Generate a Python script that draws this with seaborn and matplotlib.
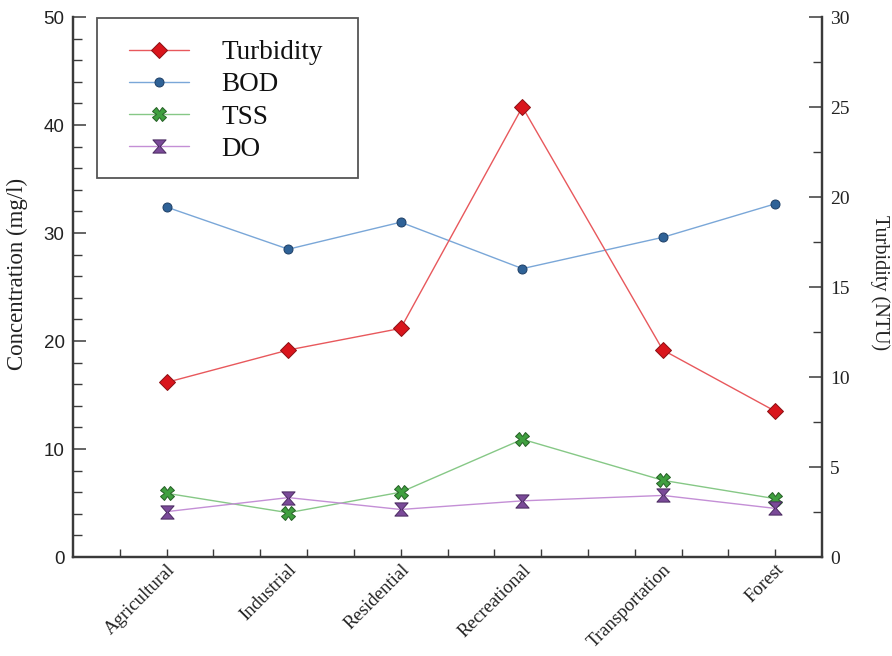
import numpy as np
import pandas as pd
import matplotlib
matplotlib.use("Agg")
import matplotlib.pyplot as plt
from matplotlib.path import Path
from matplotlib.patches import Rectangle
from matplotlib.lines import Line2D
from matplotlib.ticker import MultipleLocator, FixedLocator
import seaborn as sns

# Water-quality parameters by land-use type
land_use = ["Agricultural", "Industrial", "Residential", "Recreational",
            "Transportation", "Forest"]
turbidity = [9.7, 11.5, 12.7, 25.0, 11.5, 8.1]   # NTU (right axis)
bod = [32.4, 28.5, 31.0, 26.7, 29.6, 32.7]       # mg/l
tss = [5.9, 4.1, 6.0, 10.9, 7.1, 5.4]            # mg/l
do = [4.2, 5.5, 4.4, 5.2, 5.7, 4.5]              # mg/l

# horizontal placement of each land-use category along the x scale
site_x = [2.0, 4.6, 7.0, 9.6, 12.6, 15.0]

df = pd.DataFrame({"x": site_x, "Turbidity": turbidity, "BOD": bod,
                   "TSS": tss, "DO": do, "site": land_use})

sns.set_theme(style="white")
serif = ["Liberation Serif", "DejaVu Serif"]
sans = ["Liberation Sans", "DejaVu Sans"]
plt.rcParams["font.family"] = serif

# hourglass marker for DO
hourglass = Path(
    [(-1, 1), (1, 1), (0.12, 0), (1, -1), (-1, -1), (-0.12, 0), (-1, 1)],
    [Path.MOVETO, Path.LINETO, Path.LINETO, Path.LINETO, Path.LINETO,
     Path.LINETO, Path.CLOSEPOLY])

styles = {
    "Turbidity": dict(color="#e8585c", marker="D", markersize=8,
                      markerfacecolor="#d9151c", markeredgecolor="#8a1014",
                      markeredgewidth=0.7, linewidth=1.0),
    "BOD": dict(color="#7aa7d8", marker="o", markersize=6.5,
                markerfacecolor="#2f6297", markeredgecolor="#1e3f66",
                markeredgewidth=0.7, linewidth=1.0),
    "TSS": dict(color="#86c886", marker="X", markersize=10,
                markerfacecolor="#3f9f3f", markeredgecolor="#255f25",
                markeredgewidth=0.7, linewidth=1.0),
    "DO": dict(color="#c48fd6", marker=hourglass, markersize=9.5,
               markerfacecolor="#7a4a98", markeredgecolor="#4a2a60",
               markeredgewidth=0.7, linewidth=1.0),
}

fig = plt.figure(figsize=(8.92, 6.56), dpi=100)
ax = fig.add_axes([73 / 892, 99 / 656, 749 / 892, 540 / 656])
ax2 = ax.twinx()

for name in ["BOD", "TSS", "DO"]:
    sns.lineplot(data=df, x="x", y=name, ax=ax, sort=False, legend=False,
                 **styles[name])
sns.lineplot(data=df, x="x", y="Turbidity", ax=ax2, sort=False, legend=False,
             **styles["Turbidity"])

spine_c = "#3a3a3a"
ax.set_xlim(0, 16)
ax.set_ylim(0, 50)
ax2.set_ylim(0, 30)

for a in (ax, ax2):
    for s in a.spines.values():
        s.set_color(spine_c)
        s.set_linewidth(1.6)
    a.spines["top"].set_visible(False)

# left axis
ax.yaxis.set_major_locator(MultipleLocator(10))
ax.yaxis.set_minor_locator(MultipleLocator(2))
ax.tick_params(axis="y", which="major", direction="in", length=9.5, width=1.1,
               color=spine_c, pad=6, labelsize=13.5, labelcolor="#222222",
               left=True, right=False)
ax.tick_params(axis="y", which="minor", direction="in", length=6.5, width=1.0,
               color=spine_c, left=True, right=False)
for t in ax.get_yticklabels():
    t.set_fontfamily(sans)

# right axis
ax2.yaxis.set_major_locator(MultipleLocator(5))
ax2.yaxis.set_minor_locator(MultipleLocator(2.5))
ax2.tick_params(axis="y", which="major", direction="in", length=9.5, width=1.1,
                color=spine_c, pad=6, labelsize=14, labelcolor="#222222")
ax2.tick_params(axis="y", which="minor", direction="in", length=6.5, width=1.0,
                color=spine_c)

# x axis: unlabelled ticks at each unit, category labels at the data points
ax.xaxis.remove_overlapping_locs = False
ax.xaxis.set_major_locator(FixedLocator(np.arange(1, 16)))
ax.xaxis.set_minor_locator(FixedLocator(site_x))
ax.xaxis.set_major_formatter(plt.NullFormatter())
ax.set_xticks(site_x, land_use, minor=True)
ax.tick_params(axis="x", which="major", direction="in", length=6, width=1.0,
               color=spine_c, bottom=True)
ax.tick_params(axis="x", which="minor", length=0, pad=3, labelsize=13.5,
               labelcolor="#222222")
for t in ax.get_xticklabels(minor=True):
    t.set_rotation(45)
    t.set_ha("right")
    t.set_rotation_mode("anchor")

ax.set_xlabel("")
ax.set_ylabel("Concentration (mg/l)", fontsize=16.5, color="#222222",
              va="center")
ax.yaxis.set_label_coords(-0.0748, 0.524)
ax2.set_ylabel("Turbidity (NTU)", fontsize=14.5, color="#222222",
               rotation=270, va="center")
ax2.yaxis.set_label_coords(1.0775, 0.509)

# legend
order = ["Turbidity", "BOD", "TSS", "DO"]
handles = [Line2D([], [], **styles[n]) for n in order]
x0 = (97 - 73) / 749
y0 = (557 - 178) / 540
ax2.add_patch(Rectangle((x0, y0), (358 - 97) / 749, (178 - 18) / 540,
                        transform=ax2.transAxes, facecolor="white",
                        edgecolor="#555555", linewidth=1.3, zorder=5,
                        clip_on=False))
leg = ax2.legend(handles, order, loc="upper left",
                 bbox_to_anchor=((129 - 73) / 749, (557 - 40) / 540),
                 frameon=False, fontsize=19.5, borderpad=0, borderaxespad=0,
                 handlelength=2.2, handletextpad=1.2, labelspacing=0.27)
leg.set_zorder(6)
for t in leg.get_texts():
    t.set_color("#111111")

fig.savefig("out.png", dpi=100)
